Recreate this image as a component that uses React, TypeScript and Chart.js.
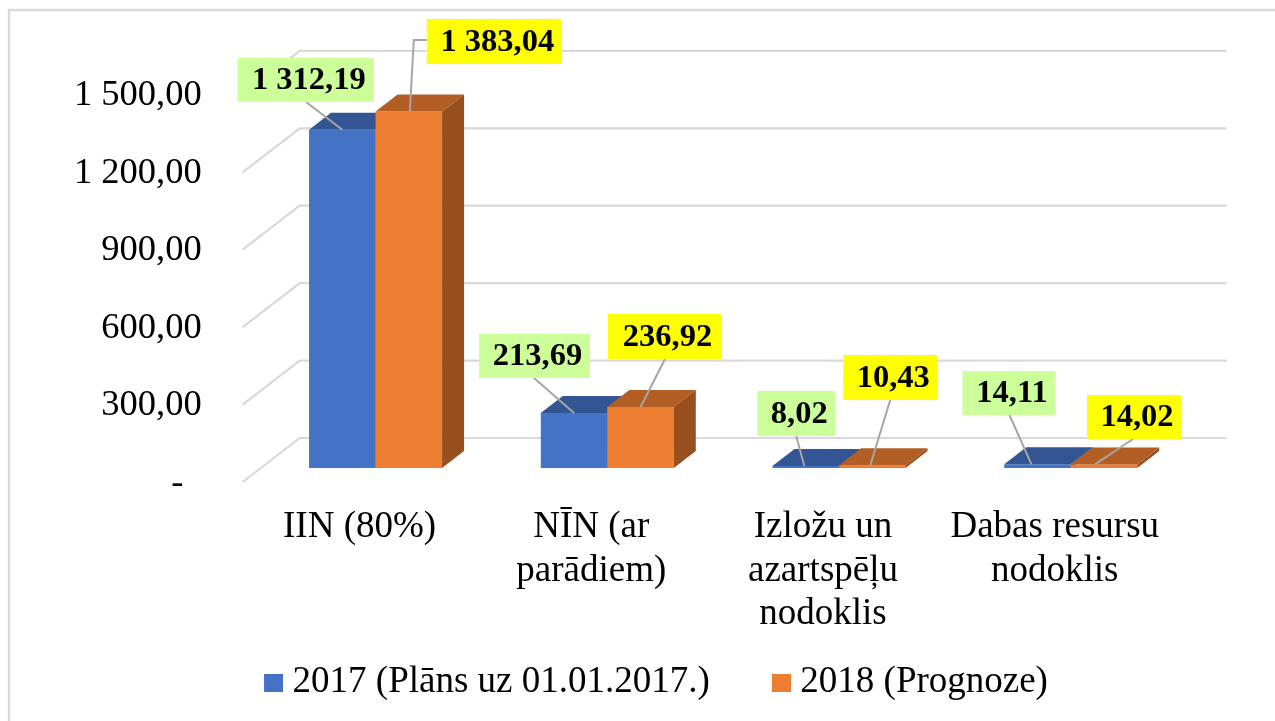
import React, { useEffect, useRef } from "react";
import { Chart, registerables } from "chart.js";

Chart.register(...registerables);

const categories: string[][] = [
  ["IIN (80%)"],
  ["NĪN (ar", "parādiem)"],
  ["Izložu un", "azartspēļu", "nodoklis"],
  ["Dabas resursu", "nodoklis"],
];
const series2017Label = "2017 (Plāns uz 01.01.2017.)";
const series2018Label = "2018 (Prognoze)";
const series2017 = [1312.19, 213.69, 8.02, 14.11];
const series2018 = [1383.04, 236.92, 10.43, 14.02];
const tickValues = [0, 300, 600, 900, 1200, 1500];

const FONT = "'Liberation Serif'";
const BLUE = "#4472C4";
const ORANGE = "#ED7D31";
const GRID = "#D9D9D9";
const DEPTH_X = 22;
const DEPTH_Y = 17;

const faces: Record<number, { top: string; side: string }> = {
  0: { top: "#335593", side: "#2A4A82" },
  1: { top: "#B25E25", side: "#97501D" },
};

// Label boxes relative to the top-centre of each bar.
type Callout = { left: number; top: number; w: number; h: number; start: number; path: number[][] };
const calloutLayout: Record<number, { fill: string; items: Callout[] }> = {
  0: {
    fill: "#CCFF99",
    items: [
      { left: -104.5, top: -72, w: 136, h: 44, start: 0, path: [[-36.5, -28]] },
      { left: -95, top: -79, w: 111, h: 44, start: 0, path: [[-40, -35]] },
      { left: -48.5, top: -75, w: 78, h: 45, start: -1.5, path: [[-9.5, -30]] },
      { left: -75, top: -93.4, w: 93, h: 44, start: -6, path: [[-28, -49.4]] },
    ],
  },
  1: {
    fill: "#FFFF00",
    items: [
      { left: 18, top: -92.6, w: 135, h: 45, start: 1, path: [[5, -71.6], [18, -71.6]] },
      { left: -32.5, top: -93, w: 113, h: 45, start: 0, path: [[24.5, -48]] },
      { left: -29, top: -110.3, w: 94, h: 45, start: -2, path: [[18, -65.3]] },
      { left: -17, top: -69.4, w: 94, h: 44, start: -9, path: [[29, -25.4]] },
    ],
  },
};

function formatValue(v: number): string {
  const [i, d] = v.toFixed(2).split(".");
  return `${i.replace(/\B(?=(\d{3})+$)/g, " ")},${d}`;
}

function swatch(color: string): HTMLCanvasElement {
  const c = document.createElement("canvas");
  c.width = 28;
  c.height = 18;
  const g = c.getContext("2d")!;
  g.fillStyle = color;
  g.fillRect(9, 0, 19, 18);
  return c;
}

const zeroPadding = (s: any) => {
  s.paddingTop = 0;
  s.paddingBottom = 0;
  s.paddingLeft = 0;
  s.paddingRight = 0;
};

const framePlugin = {
  id: "frame",
  // the legend's tall row shortens the x scale box; keep its labels unclipped
  afterLayout(chart: any) {
    chart.scales.x.bottom += 30;
  },
  beforeDraw(chart: any) {
    const { ctx, width, height } = chart;
    ctx.save();
    ctx.fillStyle = "#FFFFFF";
    ctx.fillRect(0, 0, width, height);
    ctx.strokeStyle = GRID;
    ctx.lineWidth = 2.5;
    ctx.beginPath();
    ctx.moveTo(9, height);
    ctx.lineTo(9, 10);
    ctx.lineTo(width, 10);
    ctx.stroke();
    ctx.restore();
  },
};

const wallPlugin = {
  id: "walls",
  beforeDatasetsDraw(chart: any) {
    const { ctx, chartArea, scales } = chart;
    ctx.save();
    ctx.strokeStyle = GRID;
    ctx.lineWidth = 2.2;
    for (const v of tickValues) {
      const y = scales.y.getPixelForValue(v);
      ctx.beginPath();
      ctx.moveTo(chartArea.left - 17, y);
      ctx.lineTo(chartArea.left + 40, y - 44);
      ctx.lineTo(chartArea.right + 40, y - 44);
      ctx.stroke();
    }
    ctx.restore();
  },
};

// Paint the series first-to-last so each later bar overlaps the earlier one,
// adding the top and side faces to every bar element.
const bar3dPlugin = {
  id: "bar3d",
  beforeDatasetDraw() {
    return false;
  },
  afterDatasetsDraw(chart: any) {
    const { ctx } = chart;
    chart.data.datasets.forEach((_: any, di: number) => {
      const meta = chart.getDatasetMeta(di);
      const face = faces[di];
      meta.controller.draw();
      ctx.save();
      for (const el of meta.data) {
        const l = el.x - el.width / 2;
        const r = el.x + el.width / 2;
        const t = el.y;
        const b = el.base;
        ctx.fillStyle = face.top;
        ctx.beginPath();
        ctx.moveTo(l, t);
        ctx.lineTo(l + DEPTH_X, t - DEPTH_Y);
        ctx.lineTo(r + DEPTH_X, t - DEPTH_Y);
        ctx.lineTo(r, t);
        ctx.closePath();
        ctx.fill();
        ctx.fillStyle = face.side;
        ctx.beginPath();
        ctx.moveTo(r, t);
        ctx.lineTo(r + DEPTH_X, t - DEPTH_Y);
        ctx.lineTo(r + DEPTH_X, b - DEPTH_Y);
        ctx.lineTo(r, b);
        ctx.closePath();
        ctx.fill();
      }
      ctx.restore();
    });
  },
};

const calloutPlugin = {
  id: "callouts",
  afterDatasetsDraw(chart: any) {
    const { ctx } = chart;
    ctx.save();
    chart.data.datasets.forEach((ds: any, di: number) => {
      const meta = chart.getDatasetMeta(di);
      const cfg = calloutLayout[di];
      meta.data.forEach((el: any, i: number) => {
        const c = cfg.items[i];
        ctx.strokeStyle = "#A6A6A6";
        ctx.lineWidth = 2;
        ctx.beginPath();
        ctx.moveTo(el.x + c.start, el.y);
        for (const [dx, dy] of c.path) ctx.lineTo(el.x + dx, el.y + dy);
        ctx.stroke();
        ctx.fillStyle = cfg.fill;
        ctx.fillRect(el.x + c.left, el.y + c.top, c.w, c.h);
        ctx.fillStyle = "#000000";
        ctx.font = `bold 32.5px ${FONT}`;
        ctx.textAlign = "center";
        ctx.textBaseline = "middle";
        ctx.fillText(formatValue(ds.data[i]), el.x + c.left + c.w / 2 + 3, el.y + c.top + c.h / 2 + 1);
      });
    });
    ctx.restore();
  },
};

export default function App() {
  const ref = useRef<HTMLCanvasElement>(null);
  useEffect(() => {
    const chart = new Chart(ref.current!, {
      type: "bar",
      data: {
        labels: categories,
        datasets: [
          { label: series2017Label, data: series2017, backgroundColor: BLUE, yAxisID: "y2", categoryPercentage: 0.574, barPercentage: 1 },
          { label: series2018Label, data: series2018, backgroundColor: ORANGE, yAxisID: "y2", categoryPercentage: 0.574, barPercentage: 1 },
        ],
      } as any,
      options: {
        responsive: false,
        animation: false,
        font: { family: FONT },
        layout: { autoPadding: false, padding: { left: 60, right: 23, top: 51, bottom: 10 } },
        scales: {
          x: {
            grid: { display: false, drawTicks: false },
            border: { display: false },
            afterFit: (s: any) => { s.height = 120; zeroPadding(s); },
            ticks: {
              autoSkip: false,
              maxRotation: 0,
              minRotation: 0,
              labelOffset: -16,
              padding: 24,
              color: "#000",
              font: { family: FONT, size: 37, lineHeight: 1.176 },
            },
          },
          y: {
            position: "left",
            min: 0,
            max: 1670,
            grid: { display: false, drawTicks: false },
            border: { display: false },
            afterFit: (s: any) => { s.width = 199.7; zeroPadding(s); },
            afterBuildTicks: (s: any) => { s.ticks = tickValues.map((value) => ({ value })); },
            ticks: {
              autoSkip: false,
              padding: 58,
              labelOffset: 1,
              color: "#000",
              font: { family: FONT, size: 36.5 },
              callback: (v: any) => (Number(v) === 0 ? "-  " : formatValue(Number(v))),
            },
          },
          y2: { display: false, min: -54.3, max: 1618 },
          rightGutter: {
            position: "right",
            min: 0,
            max: 1,
            grid: { display: false, drawTicks: false },
            border: { display: false },
            ticks: { display: false },
            afterFit: (s: any) => { s.width = 65.4; zeroPadding(s); },
          },
        },
        plugins: {
          tooltip: { enabled: false },
          legend: {
            position: "bottom",
            labels: {
              usePointStyle: true,
              pointStyleWidth: 10,
              padding: 62,
              color: "#000",
              font: { family: FONT, size: 37 },
              generateLabels: (c: any) =>
                c.data.datasets.map((d: any, i: number) => ({
                  text: d.label,
                  datasetIndex: i,
                  fontColor: "#000",
                  fillStyle: d.backgroundColor,
                  strokeStyle: "transparent",
                  lineWidth: 0,
                  hidden: false,
                  pointStyle: swatch(d.backgroundColor),
                })),
            },
          },
        },
      } as any,
      plugins: [framePlugin, wallPlugin, bar3dPlugin, calloutPlugin],
    });
    return () => chart.destroy();
  }, []);
  return (
    <div style={{ position: "fixed", left: 0, top: 0, width: 1275, height: 721 }}>
      <canvas ref={ref} width={1275} height={721} style={{ display: "block" }} />
    </div>
  );
}
